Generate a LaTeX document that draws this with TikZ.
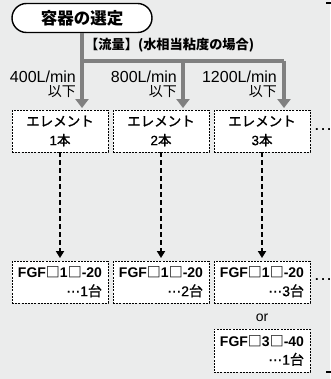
\documentclass[tikz,border=0pt]{standalone}
\usepackage{fontspec}
\setmainfont{Liberation Sans}
\newfontfamily\jp{Noto Sans CJK JP}
\newfontfamily\jpm[FakeBold=1.2]{Noto Sans CJK JP}
\newfontfamily\lsm[FakeBold=0.8]{Liberation Sans}
\newfontfamily\dvs[FakeBold=0.8]{DejaVu Sans}
\usetikzlibrary{arrows.meta}
\definecolor{bg}{RGB}{235,236,236}
\definecolor{flowgray}{RGB}{128,128,128}
\begin{document}
\begin{tikzpicture}[x=1pt,y=-1pt,
  pill/.style={draw, line width=1.4pt, rounded corners=14.5pt, fill=white,
    minimum width=140pt, minimum height=29pt, inner sep=0pt},
  dbox/.style={draw, fill=white, line width=0.9pt, dash pattern=on 2pt off 1.2pt,
    minimum width=96pt, minimum height=42pt, inner sep=0pt},
  flow/.style={draw=flowgray, line width=4pt},
  flowarrow/.style={flow, -{Triangle[width=13pt,length=9pt]}, shorten >=1.5pt},
  sub/.style={draw, line width=1.8pt, dash pattern=on 5pt off 3pt,
    -{Triangle[width=8pt,length=7pt]}, shorten >=2.5pt},
  elemtext/.style={align=center, font=\fontsize{13.5}{19}\selectfont},
  fgftext/.style={align=right, font=\fontsize{14}{18.5}\selectfont},
  rate/.style={anchor=east, inner sep=0pt, font=\fontsize{16}{17}\selectfont},
  ratesub/.style={anchor=east, inner sep=0pt, font=\fontsize{14}{15}\selectfont\jp},
  dots/.style={inner sep=0pt, font=\fontsize{13}{15}\selectfont\bfseries}
]
\fill[bg] (0,0) rectangle (330,379);
\useasboundingbox (0,0) rectangle (330,379);

\node[pill] (title) at (82,18) {\fontsize{16.5}{19}\selectfont\bfseries\jp 容器の選定};

\node[anchor=west, inner sep=0pt] (cond) at (85,45)
  {\fontsize{13.2}{15}\selectfont\bfseries\jp 【流量】(水相当粘度の場合)};

% element boxes
\node[dbox, elemtext] (e1) at (60,131) {{\jpm エレメント}\\{\lsm 1}{\jpm 本}};
\node[dbox, elemtext] (e2) at (161,131) {{\jpm エレメント}\\{\lsm 2}{\jpm 本}};
\node[dbox, elemtext] (e3) at (262,131) {{\jpm エレメント}\\{\lsm 3}{\jpm 本}};

% FGF boxes
\node[dbox, fgftext] (f1) at (60,282) {\bfseries FGF{\jp □}1{\jp □}-20\\{\dvs ⋯}{\lsm 1}{\jpm 台}};
\node[dbox, fgftext] (f2) at (161,282) {\bfseries FGF{\jp □}1{\jp □}-20\\{\dvs ⋯}{\lsm 2}{\jpm 台}};
\node[dbox, fgftext] (f3) at (262,282) {\bfseries FGF{\jp □}1{\jp □}-20\\{\dvs ⋯}{\lsm 3}{\jpm 台}};
\node[inner sep=0pt, font=\fontsize{14}{16}\selectfont] (or) at (262,318) {or};
\node[dbox, fgftext, minimum height=43pt] (f4) at (262,350.5) {\bfseries FGF{\jp □}3{\jp □}-40\\{\dvs ⋯}{\lsm 1}{\jpm 台}};

% flow lines
\coordinate (b1) at (82,61);
\coordinate (b2) at (183,61);
\coordinate (b3) at (284,61);
\draw[flow] (title.south) -- (b1);
\draw[flow] (b1) -- (b3);
\draw[flowarrow] (b1) -- (b1 |- e1.north);
\draw[flowarrow] (b2) -- (b2 |- e2.north);
\draw[flowarrow] (b3) -- (b3 |- e3.north);

% rate labels
\node[rate] (r1) at (76,76.5) {400L/min};
\node[ratesub] (r1b) at (76,92) {以下};
\node[rate] (r2) at (177,76.5) {800L/min};
\node[ratesub] (r2b) at (177,92) {以下};
\node[rate] (r3) at (277,76.5) {1200L/min};
\node[ratesub] (r3b) at (277,92) {以下};

% dashed connectors
\draw[sub] (e1) -- (f1);
\draw[sub] (e2) -- (f2);
\draw[sub] (e3) -- (f3);

% continuation dots
\node[dots, anchor=west] (d1) at (315,130) {.\hspace{2.5pt}.\hspace{2.5pt}.};
\node[dots, anchor=west] (d2) at (315,280) {.\hspace{2.5pt}.\hspace{2.5pt}.};

% edge ticks
\draw[line width=1.2pt] (326,3) -- (331,3);
\draw[line width=1.2pt] (326,372) -- (331,372);
\end{tikzpicture}
\end{document}
